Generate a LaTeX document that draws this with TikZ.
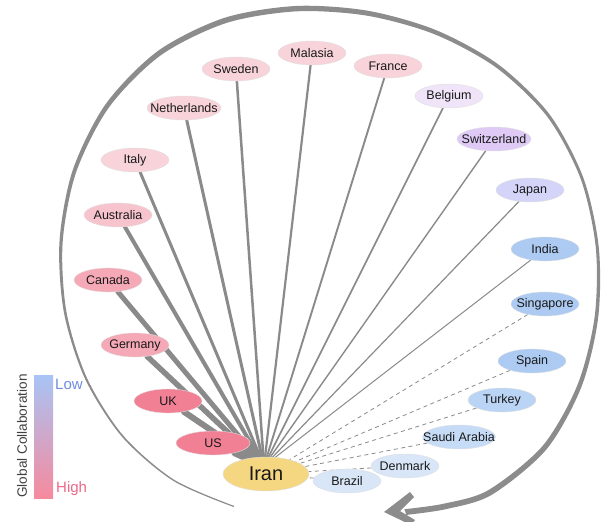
\documentclass[tikz,border=0pt]{standalone}
\usepackage{fontspec}
\setmainfont{Liberation Sans}
\usetikzlibrary{shapes.geometric,calc}
\pgfdeclarelayer{bg}
\pgfsetlayers{bg,main}
\definecolor{cHigh}{RGB}{241,128,148}
\definecolor{cMidHigh}{RGB}{245,168,182}
\definecolor{cAus}{RGB}{247,196,206}
\definecolor{cPale}{RGB}{248,212,218}
\definecolor{cBel}{RGB}{240,228,248}
\definecolor{cSwi}{RGB}{222,202,245}
\definecolor{cJap}{RGB}{212,212,248}
\definecolor{cLow}{RGB}{172,202,242}
\definecolor{cTur}{RGB}{186,212,245}
\definecolor{cSau}{RGB}{198,220,246}
\definecolor{cDen}{RGB}{216,230,248}
\definecolor{cIran}{RGB}{245,215,130}
\definecolor{linkgray}{RGB}{138,138,138}
\definecolor{arcgray}{RGB}{140,140,140}
\definecolor{barTop}{RGB}{168,196,245}
\definecolor{barMid}{RGB}{232,202,248}
\definecolor{barBot}{RGB}{246,138,158}
\definecolor{lowText}{RGB}{110,140,225}
\definecolor{highText}{RGB}{235,105,135}
\begin{document}
\begin{tikzpicture}[x=1pt,y=-1pt,
  country/.style={ellipse, minimum width=68pt, minimum height=24pt, inner sep=0pt,
    draw=black!12, line width=0.4pt, font=\fontsize{12.5}{14}\selectfont, text=black!90},
  link/.style={draw=linkgray, line cap=round},
  weak/.style={draw=linkgray, line width=0.8pt, dash pattern=on 4pt off 3.5pt}]
\useasboundingbox (0,0) rectangle (605,522);

% ---- big sweeping arrow (tapered band around a centre) ----
\foreach \t/\r/\w [count=\i] in {247/246/1.2,232/254.1/1.4,217/259.6/1.7,202/263.1/2.1,
  187/266.75/2.6,172/271.6/3.2,157/277.75/3.9,142/282.75/4.6,127/283.9/5.2,112/279.9/5.5,
  97/273.4/5.4,82/269.4/5.0,67/269.25/4.4,52/271.6/3.8,37/273.4/3.2,22/271.75/2.9,7/269.25/3.0,
  -8/269/3.6,-23/271/4.4,-38/272.25/5.2,-53/266/5.8,-63/254/6.0,-72/244/6.0}{
  \coordinate (o\i) at ({330+(\r+\w/2)*cos(\t)},{280-(\r+\w/2)*sin(\t)});
  \coordinate (n\i) at ({330+(\r-\w/2)*cos(\t)},{280-(\r-\w/2)*sin(\t)});
}
\fill[arcgray] plot[smooth] coordinates {(o1)(o2)(o3)(o4)(o5)(o6)(o7)(o8)(o9)(o10)(o11)(o12)(o13)(o14)(o15)(o16)(o17)(o18)(o19)(o20)(o21)(o22)(o23)}
  -- plot[smooth] coordinates {(n23)(n22)(n21)(n20)(n19)(n18)(n17)(n16)(n15)(n14)(n13)(n12)(n11)(n10)(n9)(n8)(n7)(n6)(n5)(n4)(n3)(n2)(n1)} -- cycle;
\coordinate (tip) at (384,512);
\fill[arcgray] (tip) -- (410,492) -- (414,497) -- (400,511) -- (415,520) -- (411,525) -- cycle;

% ---- nodes ----
\node[country, fill=cIran, minimum width=86pt, minimum height=34pt,
  font=\fontsize{20}{22}\selectfont] (iran) at (266,474) {\makebox[0pt]{Iran}};
\coordinate (hub) at (264,466);
\node[country, fill=cHigh, minimum width=74pt] (us) at (213,443) {\makebox[0pt]{US}};
\node[country, fill=cHigh] (uk) at (168,401) {\makebox[0pt]{UK}};
\node[country, fill=cMidHigh] (germany) at (135,345) {\makebox[0pt]{Germany}};
\node[country, fill=cMidHigh] (canada) at (108,280) {\makebox[0pt]{Canada}};
\node[country, fill=cAus] (australia) at (118,215) {\makebox[0pt]{Australia}};
\node[country, fill=cPale] (italy) at (135,160) {\makebox[0pt]{Italy}};
\node[country, fill=cPale, minimum width=74pt] (netherlands) at (184,108) {\makebox[0pt]{Netherlands}};
\node[country, fill=cPale] (sweden) at (236,69) {\makebox[0pt]{Sweden}};
\node[country, fill=cPale] (malasia) at (312,53) {\makebox[0pt]{Malasia}};
\node[country, fill=cPale] (france) at (388,66) {\makebox[0pt]{France}};
\node[country, fill=cBel] (belgium) at (449,96) {\makebox[0pt]{Belgium}};
\node[country, fill=cSwi, minimum width=74pt] (switzerland) at (494,139) {\makebox[0pt]{Switzerland}};
\node[country, fill=cJap] (japan) at (530,190) {\makebox[0pt]{Japan}};
\node[country, fill=cLow] (india) at (545,249) {\makebox[0pt]{India}};
\node[country, fill=cLow] (singapore) at (545,304) {\makebox[0pt]{Singapore}};
\node[country, fill=cLow] (spain) at (532,361) {\makebox[0pt]{Spain}};
\node[country, fill=cTur] (turkey) at (502,400) {\makebox[0pt]{Turkey}};
\node[country, fill=cSau, minimum width=73pt] (saudi) at (459,437) {\makebox[0pt]{Saudi Arabia}};
\node[country, fill=cDen] (denmark) at (405,466) {\makebox[0pt]{Denmark}};
\node[country, fill=cDen] (brazil) at (347,481) {\makebox[0pt]{Brazil}};

% ---- links ----
\begin{pgfonlayer}{bg}
\draw[link, line width=7pt] (us) -- (hub);
\draw[link, line width=6pt] (uk) -- (hub);
\draw[link, line width=5.5pt] (germany) -- (hub);
\draw[link, line width=5pt] (canada) -- (hub);
\draw[link, line width=4pt] (australia) -- (hub);
\draw[link, line width=3pt] (italy) -- (hub);
\draw[link, line width=3pt] (netherlands) -- (hub);
\draw[link, line width=2.5pt] (sweden) -- (hub);
\draw[link, line width=2.2pt] (malasia) -- (hub);
\draw[link, line width=1.9pt] (france) -- (hub);
\draw[link, line width=1.6pt] (belgium) -- (hub);
\draw[link, line width=1.4pt] (switzerland) -- (hub);
\draw[link, line width=1.2pt] (japan) -- (hub);
\draw[link, line width=1.0pt] (india) -- (hub);
\draw[weak] (singapore) -- (iran);
\draw[weak] (spain) -- (iran);
\draw[weak] (turkey) -- (iran);
\draw[weak] (saudi) -- (iran);
\draw[weak] (denmark) -- (iran);
\draw[weak] (brazil) -- (iran);
\end{pgfonlayer}

% ---- legend ----
\shade[top color=barTop, middle color=barMid, bottom color=barBot] (34,375) rectangle (53,498);
\node[anchor=west, inner sep=0pt, text=lowText, font=\fontsize{15}{17}\selectfont] (low) at (55,384) {Low};
\node[anchor=west, inner sep=0pt, text=highText, font=\fontsize{15}{17}\selectfont] (high) at (56,489) {High};
\node[rotate=90, inner sep=0pt, text=black!75, font=\fontsize{13.6}{15}\selectfont] (gc) at (22,436) {Global Collaboration};
\end{tikzpicture}
\end{document}
